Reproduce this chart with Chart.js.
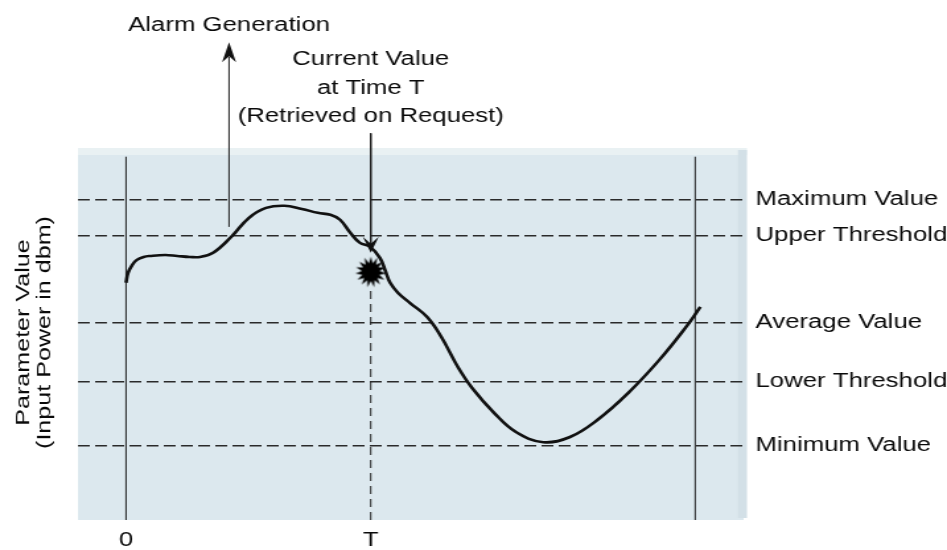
<!DOCTYPE html>
<html>
<head>
<meta charset="utf-8">
<script src="https://cdn.jsdelivr.net/npm/chart.js@4/dist/chart.umd.min.js"></script>
<style>
html,body{margin:0;padding:0;background:#fff;overflow:hidden}
canvas{display:block}
</style>
</head>
<body>
<canvas id="c" width="717" height="550" style="width:947px;height:550px"></canvas>
<script>
// ---- data ----
const timeVals  = [0,0.35,1.1,1.9,3.1,4.2,6.9,9.0,11.2,13.0,15.3,18.5,21.6,24.6,27.8,30.9,33.7,35.9,37.6,39.4,41.1,42.9,44.6,45.5,46.4,47.8,49.9,52.9,55.4,58.3,60.8,64.7,68.5,73.3,78.0,82.8,88.2,93.7,98.4,100.9];
const powerVals = [66.3,70.3,73.6,75.6,76.8,77.2,77.6,77.2,76.8,76.8,78.5,85.0,92.7,96.7,97.6,96.3,94.7,93.9,91.9,86.6,82.5,80.9,76.4,71.5,66.3,62.2,58.1,52.4,44.3,32.1,23.6,13.4,5.7,1.6,3.7,10.6,21.5,35.0,48.4,56.5];
const levelValues = [100, 85.4, 50, 26, 0];
const levelLabels = ['Maximum Value','Upper Threshold','Average Value','Lower Threshold','Minimum Value'];
const xTickValues = [0, 43];
const xTickLabels = ['0', 'T'];
const boundaryTimes = [0, 100];
const boundaryTop = 117.5;
const yRange = [-30, 119];
const xRange = [-8.45, 108.5];
const markerTime = 43;
const markerValue = 70.7;
const markerDashTop = 65;
const currentLine = [127, 78.5];   // from, arrow tip
const alarmTime = 18.1;
const alarmLine = [89, 164];       // from curve, arrow tip
const alarmText = 'Alarm Generation';
const alarmTextValue = 168.4;
const currentText = ['Current Value', 'at Time T', '(Retrieved on Request)'];
const currentTextValues = [154.9, 143.1, 131.7];
const yTitle = ['Parameter Value', '(Input Power in dbm)'];

// ---- styling ----
const S = 947 / 717;              // horizontal stretch of the canvas (wide lettering)
const FONT_FAMILY = '"Liberation Sans", Arial, Helvetica, sans-serif';
const TEXT = '#0a0a0a';
const font = { family: FONT_FAMILY, size: 19.5 };

function makeBurst() {
  const rx = 15.5 / S, ry = 15.5, n = 15;
  const c = document.createElement('canvas');
  c.width = Math.ceil(rx * 2) + 2; c.height = Math.ceil(ry * 2) + 2;
  const g = c.getContext('2d');
  const cx = c.width / 2, cy = c.height / 2;
  g.beginPath();
  for (let i = 0; i < n * 2; i++) {
    const r = i % 2 === 0 ? 1 : 0.58;
    const t = i * Math.PI / n - Math.PI / 2;
    g.lineTo(cx + Math.cos(t) * rx * r, cy + Math.sin(t) * ry * r);
  }
  g.closePath(); g.fillStyle = '#000'; g.fill();
  return c;
}

const panelPlugin = {
  id: 'panel',
  beforeDraw(chart) {
    const { ctx, chartArea: a } = chart;
    ctx.save();
    ctx.fillStyle = '#dce8ee';
    ctx.fillRect(a.left, a.top, a.right - a.left, a.bottom - a.top);
    ctx.fillStyle = '#e9f1f3';
    ctx.fillRect(a.left, a.top - 5, (747 / S) - a.left, 7);
    ctx.fillStyle = '#d3e0e7';
    ctx.fillRect(738 / S, a.top - 3, 9 / S, a.bottom - a.top + 1);
    ctx.restore();
  }
};

function arrowHead(ctx, x, y, dir, half, len, notch) {
  ctx.beginPath();
  ctx.moveTo(x, y);
  ctx.lineTo(x - half / S, y - dir * len);
  ctx.lineTo(x, y - dir * notch);
  ctx.lineTo(x + half / S, y - dir * len);
  ctx.closePath();
  ctx.fill();
}

const notesPlugin = {
  id: 'notes',
  afterDatasetsDraw(chart) {
    const { ctx } = chart;
    const xs = chart.scales.x, ys = chart.scales.y;
    ctx.save();
    ctx.fillStyle = '#111';
    arrowHead(ctx, xs.getPixelForValue(markerTime), ys.getPixelForValue(currentLine[1]), 1, 8, 16, 9);
    arrowHead(ctx, xs.getPixelForValue(alarmTime), ys.getPixelForValue(alarmLine[1]), -1, 7, 20, 14);
    ctx.fillStyle = TEXT;
    ctx.font = '19.5px ' + FONT_FAMILY;
    ctx.textAlign = 'center';
    ctx.textBaseline = 'alphabetic';
    ctx.fillText(alarmText, xs.getPixelForValue(alarmTime), ys.getPixelForValue(alarmTextValue));
    currentText.forEach((t, i) => {
      ctx.fillText(t, xs.getPixelForValue(markerTime), ys.getPixelForValue(currentTextValues[i]));
    });
    ctx.font = '19px ' + FONT_FAMILY;
    const baseX = [28.5, 50];
    const cy = (chart.chartArea.top + chart.chartArea.bottom) / 2 - 4;
    yTitle.forEach((t, i) => {
      ctx.save();
      ctx.translate(baseX[i] / S, cy);
      ctx.scale(1 / S, S);
      ctx.rotate(-Math.PI / 2);
      ctx.fillText(t, 0, 0);
      ctx.restore();
    });
    ctx.restore();
  }
};

const curve = timeVals.map((t, i) => ({ x: t, y: powerVals[i] }));
const vLine = (x, y0, y1) => [{ x, y: y0 }, { x, y: y1 }];

const datasets = [
  { data: curve, borderColor: '#111', borderWidth: 2.6, tension: 0.4, pointRadius: 0 },
  ...boundaryTimes.map(t => ({ data: vLine(t, yRange[0], boundaryTop), borderColor: '#222', borderWidth: 1, pointRadius: 0 })),
  { data: vLine(markerTime, yRange[0], markerDashTop), borderColor: '#222', borderWidth: 1, borderDash: [8, 5], pointRadius: 0 },
  { data: vLine(markerTime, currentLine[0], currentLine[1] + 3), borderColor: '#222', borderWidth: 1, pointRadius: 0, clip: false },
  { data: vLine(alarmTime, alarmLine[0], alarmLine[1] - 6), borderColor: '#222', borderWidth: 1, pointRadius: 0, clip: false },
  { data: [{ x: markerTime, y: markerValue }], showLine: false, pointStyle: makeBurst(), pointRadius: 10, borderWidth: 0, clip: false }
];

new Chart(document.getElementById('c'), {
  type: 'line',
  data: { datasets },
  options: {
    responsive: false,
    animation: false,
    devicePixelRatio: 1,
    layout: { padding: { top: 153, left: 0, right: 0, bottom: 0 } },
    plugins: { legend: { display: false }, tooltip: { enabled: false } },
    scales: {
      x: {
        type: 'linear', position: 'bottom', min: xRange[0], max: xRange[1],
        grid: { display: false }, border: { display: false },
        ticks: { padding: 1, font, color: TEXT, autoSkip: false, maxRotation: 0,
                 callback: (v) => { const i = xTickValues.indexOf(v); return i >= 0 ? xTickLabels[i] : ''; } },
        afterBuildTicks: (s) => { s.ticks = xTickValues.map(v => ({ value: v })); },
        afterFit: (s) => { s.height = 30; }
      },
      y: {
        type: 'linear', position: 'left', min: yRange[0], max: yRange[1],
        grid: { display: false }, border: { display: false },
        ticks: { display: false },
        afterFit: (s) => { s.width = 59; }
      },
      y2: {
        type: 'linear', position: 'right', min: yRange[0], max: yRange[1],
        grid: { color: '#2a2a2a', lineWidth: 1.5, drawTicks: false },
        border: { display: false, dash: [9, 4] },
        ticks: { padding: 9, font, color: TEXT, autoSkip: false,
                 callback: (v) => { const i = levelValues.indexOf(v); return i >= 0 ? levelLabels[i] : ''; } },
        afterBuildTicks: (s) => { s.ticks = levelValues.map(v => ({ value: v })); },
        afterFit: (s) => { s.width = 154; }
      }
    }
  },
  plugins: [panelPlugin, notesPlugin]
});
</script>
</body>
</html>
